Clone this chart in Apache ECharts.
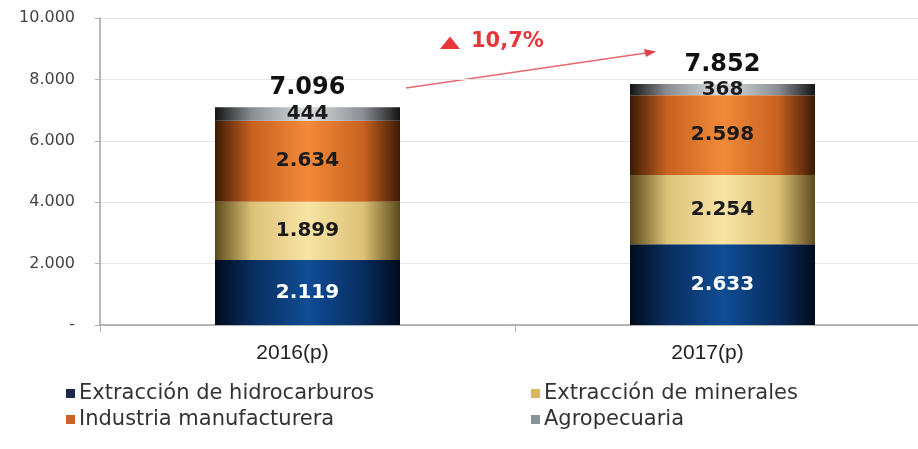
<!DOCTYPE html>
<html>
<head>
<meta charset="utf-8">
<script src="https://cdn.jsdelivr.net/npm/echarts@6/dist/echarts.min.js"></script>
<style>
  html, body { margin: 0; padding: 0; background: #fff; }
  #chart { width: 918px; height: 449px; }
</style>
</head>
<body>
<div id="chart"></div>
<script>
// Categories and values (millones)
const years = ['2016(p)', '2017(p)'];
const hidrocarburos = [2119, 2633];
const minerales = [1899, 2254];
const manufactura = [2634, 2598];
const agropecuaria = [444, 368];
const totals = [7096, 7852];
const yTicks = [0, 2000, 4000, 6000, 8000, 10000];
const seriesNames = ['Extracción de hidrocarburos', 'Extracción de minerales', 'Industria manufacturera', 'Agropecuaria'];

// year-on-year growth of the total, Spanish decimal comma
const growthText = (((totals[1] / totals[0]) - 1) * 100).toFixed(1).replace('.', ',') + '%';

const WIDE = '"DejaVu Sans", Verdana, sans-serif';
const ARIAL = '"Liberation Sans", Arial, sans-serif';

function fmt(v) {
  if (v === 0) return '-';
  return String(v).replace(/\B(?=(\d{3})+(?!\d))/g, '.');
}

// horizontal "cylinder" shading: dark edges, bright centre
function shade(edge, mid, centre) {
  return new echarts.graphic.LinearGradient(0, 0, 1, 0, [
    { offset: 0, color: edge },
    { offset: 0.2, color: mid },
    { offset: 0.5, color: centre },
    { offset: 0.8, color: mid },
    { offset: 1, color: edge }
  ]);
}

const fills = [
  shade('#020b1c', '#082d5e', '#0f4d95'),
  shade('#5b4a1c', '#dcc277', '#f8e4a4'),
  shade('#3c1a05', '#c8621f', '#f38a3a'),
  shade('#141414', '#8a8e92', '#dde0e2')
];
const legendFills = ['#1b2a48', '#d8b85a', '#c8632a', '#8a9299'];
const labelColors = ['#ffffff', '#1a1a1a', '#1a1a1a', '#1a1a1a'];
const dataSets = [hidrocarburos, minerales, manufactura, agropecuaria];

const chart = echarts.init(document.getElementById('chart'), null, { renderer: 'canvas' });

const series = dataSets.map((arr, i) => ({
  name: seriesNames[i],
  type: 'bar',
  stack: 'total',
  barWidth: 185,
  data: arr,
  itemStyle: { color: fills[i] },
  label: {
    show: true,
    position: 'inside',
    formatter: p => fmt(p.value),
    fontFamily: WIDE,
    fontWeight: 'bold',
    fontSize: 20,
    color: labelColors[i]
  },
  emphasis: { disabled: true }
}));

// bar totals written above each stack
series.push({
  name: 'Total',
  type: 'scatter',
  data: totals,
  symbolSize: 0,
  silent: true,
  itemStyle: { opacity: 1 },
  label: {
    show: true,
    position: 'top',
    distance: 7,
    formatter: p => fmt(p.value),
    fontFamily: WIDE,
    fontWeight: 'bold',
    fontSize: 24,
    color: '#111'
  }
});

// one legend block per entry, laid out in two rows
const legendPos = [
  { left: 66, top: 383 },
  { left: 531, top: 383 },
  { left: 66, top: 409 },
  { left: 531, top: 409 }
];
const legends = seriesNames.map((n, i) => ({
  data: [{ name: n, itemStyle: { color: legendFills[i] } }],
  left: legendPos[i].left,
  top: legendPos[i].top,
  padding: 0,
  icon: 'rect',
  itemWidth: 9,
  itemHeight: 9,
  itemGap: 0,
  selectedMode: false,
  textStyle: { fontFamily: WIDE, fontSize: 21, color: '#333', padding: [0, 0, 0, -1] }
}));

chart.setOption({
  animation: false,
  backgroundColor: '#ffffff',
  grid: { left: 100, top: 18, width: 830, height: 307, outerBoundsMode: 'none' },
  legend: legends,
  xAxis: {
    type: 'category',
    data: years,
    axisLine: { lineStyle: { color: '#a0a0a0', width: 1.5 } },
    axisTick: { show: true, length: 7, lineStyle: { color: '#b0b0b0' } },
    axisLabel: { fontFamily: ARIAL, fontSize: 21, color: '#222', margin: 18, padding: [0, 30, 0, 0] }
  },
  yAxis: {
    type: 'value',
    min: 0,
    max: 10000,
    interval: 2000,
    axisLine: { show: true, lineStyle: { color: '#a0a0a0', width: 1.5 } },
    axisTick: { show: true, inside: false, length: 5, lineStyle: { color: '#b0b0b0' } },
    splitLine: { lineStyle: { color: '#e6e6e6', width: 1 } },
    axisLabel: {
      fontFamily: WIDE, fontSize: 16, color: '#444', margin: 25,
      formatter: v => yTicks.includes(v) ? fmt(v) : ''
    }
  },
  series: series,
  graphic: [
    {
      // growth marker triangle
      type: 'polygon',
      shape: { points: [[440, 49], [460, 49], [450, 36.5]] },
      style: { fill: '#e8363a' }
    },
    {
      type: 'text',
      left: 471,
      top: 31,
      style: { text: growthText, fontFamily: WIDE, fontWeight: 'bold', fontSize: 21, fill: '#e8363a' }
    },
    {
      type: 'line',
      shape: { x1: 406, y1: 88, x2: 646, y2: 53 },
      style: { stroke: '#e56a70', lineWidth: 1.5 }
    },
    {
      type: 'polygon',
      shape: { points: [[656, 51.5], [644, 49], [646, 57]] },
      style: { fill: '#e0404a' }
    }
  ]
});
</script>
</body>
</html>
